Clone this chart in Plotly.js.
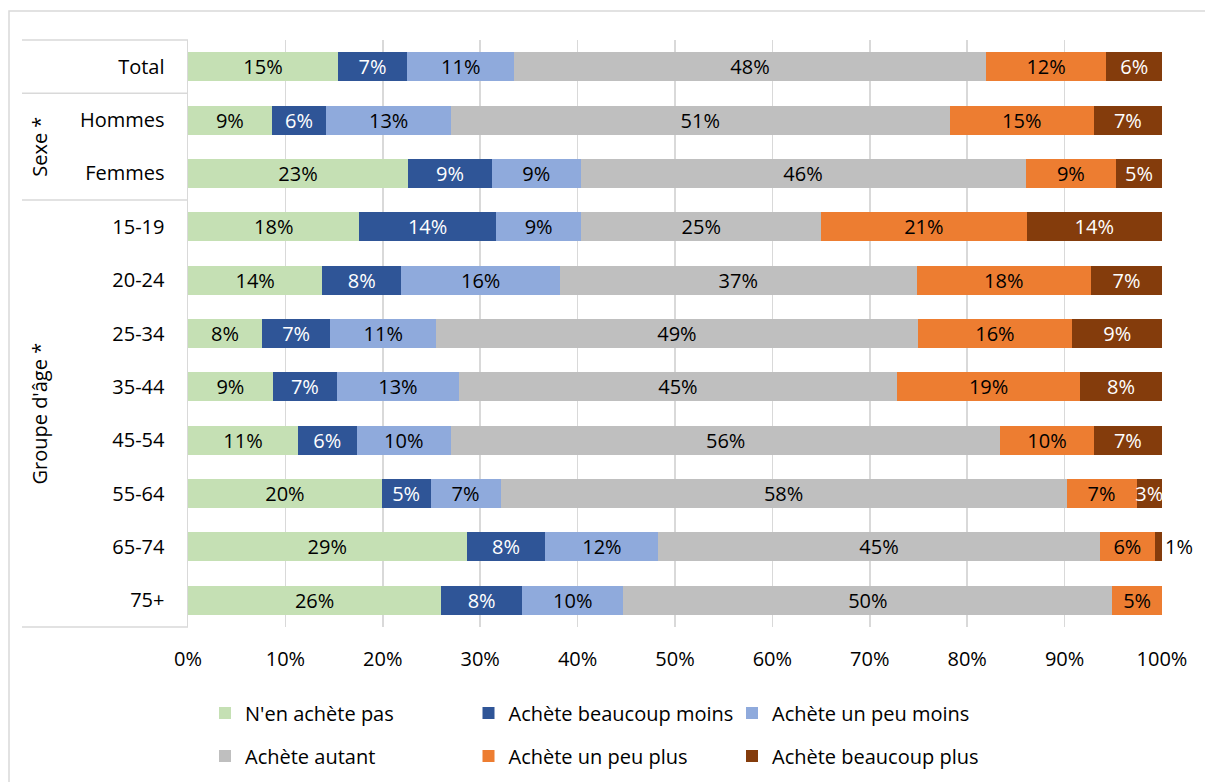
<!DOCTYPE html>
<html>
<head>
<meta charset="utf-8">
<script src="https://cdn.plot.ly/plotly-3.0.1.min.js"></script>
<style>
  body { margin: 0; background: #fff; }
  #chart { width: 1205px; height: 782px; }
</style>
</head>
<body>
<div id="chart"></div>
<script>
// categories (top to bottom)
let categories = ['Total', 'Hommes', 'Femmes', '15-19', '20-24', '25-34', '35-44', '45-54', '55-64', '65-74', '75+'];

// series values (%)
let nenAchetePas   = [15.4, 8.6, 22.6, 17.6, 13.8, 7.6, 8.7, 11.3, 19.9, 28.6, 26.0];
let beaucoupMoins  = [7.1, 5.6, 8.6, 14.0, 8.1, 7.0, 6.6, 6.0, 5.0, 8.1, 8.3];
let unPeuMoins     = [11.0, 12.8, 9.1, 8.8, 16.3, 10.9, 12.5, 9.7, 7.2, 11.6, 10.4];
let autant         = [48.4, 51.2, 45.7, 24.6, 36.6, 49.4, 45.0, 56.4, 58.1, 45.3, 50.2];
let unPeuPlus      = [12.4, 14.8, 9.3, 21.1, 17.9, 15.9, 18.8, 9.6, 7.2, 5.7, 5.1];
let beaucoupPlus   = [5.7, 7.0, 4.7, 13.9, 7.3, 9.2, 8.4, 7.0, 2.6, 0.7, 0];

let xTicks = [0, 10, 20, 30, 40, 50, 60, 70, 80, 90, 100];

// group labels on the left: [label, first index, last index]
let groups = [['Sexe *', 1, 2], ["Groupe d'âge *", 3, 10]];

let font = '"Open Sans", sans-serif';
let fs = 20;

let series = [
  {name: "N'en achète pas", vals: nenAchetePas, color: '#C5E0B4', txt: '#000', legend: 'legend'},
  {name: 'Achète beaucoup moins', vals: beaucoupMoins, color: '#2F5597', txt: '#fff', legend: 'legend'},
  {name: 'Achète un peu moins', vals: unPeuMoins, color: '#8FAADC', txt: '#000', legend: 'legend'},
  {name: 'Achète autant', vals: autant, color: '#BFBFBF', txt: '#000', legend: 'legend2'},
  {name: 'Achète un peu plus', vals: unPeuPlus, color: '#ED7D31', txt: '#000', legend: 'legend2'},
  {name: 'Achète beaucoup plus', vals: beaucoupPlus, color: '#843C0C', txt: '#fff', legend: 'legend2'}
];

let data = series.map(function(s){
  return {
    type: 'bar',
    orientation: 'h',
    name: s.name,
    x: s.vals,
    y: categories,
    legend: s.legend,
    marker: {color: s.color},
    text: s.vals.map(v => v >= 0.5 ? Math.round(v) + '%' : ''),
    textposition: s.vals.map(v => v < 2 ? 'outside' : 'inside'),
    insidetextanchor: 'middle',
    textangle: 0,
    constraintext: 'none',
    insidetextfont: {family: font, size: fs, color: s.txt},
    outsidetextfont: {family: font, size: fs, color: '#000'},
    cliponaxis: false,
    hoverinfo: 'x+name'
  };
});

// plot area in pixels
let L = 188, R = 43, T = 40, B = 155, W = 1205, H = 782;
let pw = W - L - R, ph = H - T - B;
let px = v => (v - L) / pw;               // pixel x -> paper x
let py = v => (T + ph - v) / ph;          // pixel y -> paper y
let n = categories.length;
let bound = k => 1 - k / n;               // category boundary -> paper y

let sepLine = {color: '#D9D9D9', width: 1.5};
let shapes = [0, 1, 3, n].map(function(k){
  return {type: 'line', xref: 'paper', yref: 'paper', x0: px(22), x1: 0, y0: bound(k), y1: bound(k), line: sepLine};
});
// outer chart frame
shapes.push({type: 'rect', xref: 'paper', yref: 'paper', x0: px(9), x1: px(1230), y0: py(11), y1: py(H + 20),
  line: {color: '#D9D9D9', width: 1.5}, layer: 'below'});

let annotations = groups.map(function(g){
  return {
    text: g[0], xref: 'paper', yref: 'paper',
    x: px(40), y: (bound(g[1]) + bound(g[2] + 1)) / 2,
    xanchor: 'center', yanchor: 'middle',
    textangle: -90, showarrow: false,
    font: {family: font, size: fs, color: '#000'}
  };
});

let legendBase = {
  orientation: 'h', xanchor: 'left', yanchor: 'middle',
  traceorder: 'normal',
  x: px(205), entrywidth: 218.5,
  font: {family: font, size: fs, color: '#000'},
  bgcolor: 'rgba(0,0,0,0)'
};

let layout = {
  width: W, height: H,
  margin: {l: L, r: R, t: T, b: B, autoexpand: false},
  barmode: 'stack',
  bargap: 0.457,
  paper_bgcolor: '#fff',
  plot_bgcolor: '#fff',
  font: {family: font, size: fs, color: '#000'},
  xaxis: {
    range: [0, 100.001],
    tickvals: xTicks,
    ticktext: xTicks.map(t => t + '%'),
    showgrid: true, gridcolor: '#D9D9D9', gridwidth: 1.5,
    zeroline: false, showline: false, ticks: '',
    ticklabelstandoff: 18,
    tickfont: {family: font, size: fs, color: '#000'},
    fixedrange: true
  },
  yaxis: {
    type: 'category',
    categoryarray: categories,
    autorange: 'reversed',
    showgrid: false, zeroline: false,
    showline: true, linecolor: '#D9D9D9', linewidth: 1.5,
    ticks: '', ticklabelstandoff: 18,
    tickfont: {family: font, size: fs, color: '#000'},
    fixedrange: true
  },
  legend: Object.assign({}, legendBase, {y: py(713)}),
  legend2: Object.assign({}, legendBase, {y: py(756)}),
  shapes: shapes,
  annotations: annotations
};

Plotly.newPlot('chart', data, layout, {displayModeBar: false, staticPlot: true});
</script>
</body>
</html>
